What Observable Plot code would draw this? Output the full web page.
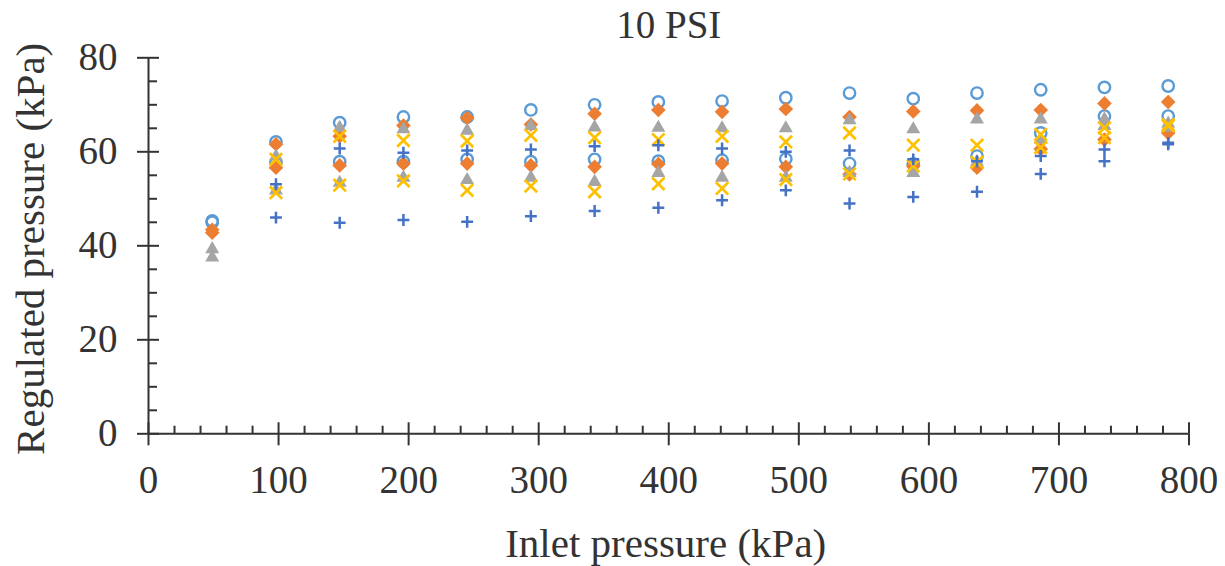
<!DOCTYPE html>
<html>
<head>
<meta charset="utf-8">
<script src="https://cdn.jsdelivr.net/npm/d3@7"></script>
<script src="https://cdn.jsdelivr.net/npm/@observablehq/plot@0.6"></script>
<style>
  html, body { margin: 0; padding: 0; background: #fff; }
  body { width: 1225px; height: 566px; overflow: hidden; }
</style>
</head>
<body>
<div id="chart"></div>
<script>
// Inlet pressure (kPa)
const inletPressure = [49, 98, 147, 196, 245, 294, 343, 392, 441, 490, 539, 588, 637, 686, 735, 784];

// Regulated pressure (kPa), two readings per inlet pressure for each series
const circleHigh   = [45.3, 62.1, 66.2, 67.4, 67.4, 68.9, 70.0, 70.6, 70.8, 71.5, 72.5, 71.3, 72.5, 73.2, 73.7, 74.0];
const circleLow    = [45.0, 57.7, 57.9, 57.9, 58.4, 57.9, 58.4, 58.0, 58.2, 58.5, 57.5, 57.4, 59.1, 64.0, 67.6, 67.6];
const diamondHigh  = [43.4, 61.6, 63.3, 65.6, 67.2, 65.8, 68.1, 68.9, 68.5, 69.1, 67.4, 68.6, 68.8, 68.9, 70.3, 70.6];
const diamondLow   = [42.8, 56.6, 57.1, 57.5, 57.5, 57.1, 56.8, 57.4, 57.5, 56.8, 55.2, 57.0, 56.6, 60.6, 62.6, 64.0];
const triangleHigh = [39.3, 59.0, 65.1, 64.8, 64.5, 65.5, 65.2, 65.1, 65.0, 65.0, 66.7, 64.8, 66.9, 66.9, 66.9, 66.0];
const triangleLow  = [37.5, 51.8, 53.4, 54.5, 54.0, 54.5, 53.6, 55.5, 54.5, 54.5, 55.5, 55.5, 57.8, 62.6, 65.5, 65.1];
const timesHigh    = [null, 58.4, 63.3, 62.4, 62.3, 63.5, 63.0, 62.6, 63.3, 62.1, 64.0, 61.4, 61.4, 63.7, 65.1, 65.8];
const timesLow     = [null, 51.3, 52.9, 53.8, 51.8, 52.7, 51.5, 53.2, 52.2, 54.1, 55.3, 57.0, 57.8, 60.9, 63.0, 65.5];
const plusHigh     = [null, 53.1, 60.7, 59.8, 60.3, 60.5, 61.2, 61.4, 60.7, 60.0, 60.3, 58.4, 58.0, 59.1, 60.5, 61.6];
const plusLow      = [null, 46.0, 44.9, 45.5, 45.1, 46.3, 47.4, 48.1, 49.7, 51.8, 49.0, 50.4, 51.5, 55.3, 58.0, 61.9];

// Axis ticks
const xMajorTicks = [0, 100, 200, 300, 400, 500, 600, 700, 800];
const xMinorTicks = d3.range(0, 801, 20).filter(d => d % 100 !== 0);
const yMajorTicks = [0, 20, 40, 60, 80];
const yMinorTicks = d3.range(0, 81, 5).filter(d => d % 20 !== 0);

const titleText = "10 PSI";
const xLabel = "Inlet pressure (kPa)";
const yLabel = "Regulated pressure (kPa)";

function rows(...arrays) {
  const out = [];
  for (const arr of arrays) {
    arr.forEach((v, i) => { if (v != null) out.push({x: inletPressure[i], y: v}); });
  }
  return out;
}

const series = [
  {data: rows(circleHigh, circleLow), symbol: "circle", fill: "none", stroke: "#5B9BD5", r: 5.7, strokeWidth: 2.4},
  {data: rows(diamondHigh, diamondLow), symbol: "diamond2", fill: "#ED7D31", stroke: "none", r: 6.6, strokeWidth: 0},
  {data: rows(triangleHigh, triangleLow), symbol: "triangle", fill: "#A5A5A5", stroke: "none", r: 5.2, strokeWidth: 0},
  {data: rows(timesHigh, timesLow), symbol: "times", fill: "none", stroke: "#FFC000", r: 5.7, strokeWidth: 2.7},
  {data: rows(plusHigh, plusLow), symbol: "plus", fill: "none", stroke: "#4472C4", r: 3.9, strokeWidth: 2.5}
];

const axisColor = "#333";
const font = "'Liberation Serif', serif";

const chart = Plot.plot({
  width: 1225,
  height: 566,
  marginLeft: 148,
  marginRight: 36.5,
  marginTop: 57.3,
  marginBottom: 132.7,
  style: {fontFamily: font, fontSize: "39px", color: axisColor, background: "#fff"},
  x: {domain: [0, 800]},
  y: {domain: [0, 80]},
  marks: [
    Plot.axisX({ticks: xMajorTicks, tickSize: 12, tickPadding: 19, strokeWidth: 2, label: null}),
    Plot.axisX({ticks: xMajorTicks, tickSize: -11, tickFormat: () => "", strokeWidth: 2, label: null}),
    Plot.axisX({ticks: xMinorTicks, tickSize: -7.6, tickFormat: () => "", strokeWidth: 2, label: null}),
    Plot.axisY({ticks: yMajorTicks, tickSize: 11, tickPadding: 20, strokeWidth: 2, label: null}),
    Plot.axisY({ticks: yMajorTicks, tickSize: -11, tickFormat: () => "", strokeWidth: 2, label: null}),
    Plot.axisY({ticks: yMinorTicks, tickSize: -9, tickFormat: () => "", strokeWidth: 2, label: null}),
    Plot.ruleY([0], {stroke: axisColor, strokeWidth: 2}),
    Plot.ruleX([0], {stroke: axisColor, strokeWidth: 2}),
    Plot.text([titleText], {frameAnchor: "top", lineAnchor: "bottom", dy: -20.3, fontSize: 39, fill: axisColor}),
    Plot.text([xLabel], {frameAnchor: "bottom", lineAnchor: "bottom", dy: 122.7, dx: -3, fontSize: 41, fill: axisColor}),
    Plot.text([yLabel], {frameAnchor: "left", textAnchor: "middle", lineAnchor: "bottom", rotate: -90, dx: -105, dy: 3, fontSize: 41, fill: axisColor}),
    ...series.map(s => Plot.dot(s.data, {
      x: "x", y: "y", symbol: s.symbol, r: s.r,
      fill: s.fill, stroke: s.stroke, strokeWidth: s.strokeWidth
    }))
  ]
});

document.getElementById("chart").appendChild(chart);
</script>
</body>
</html>
